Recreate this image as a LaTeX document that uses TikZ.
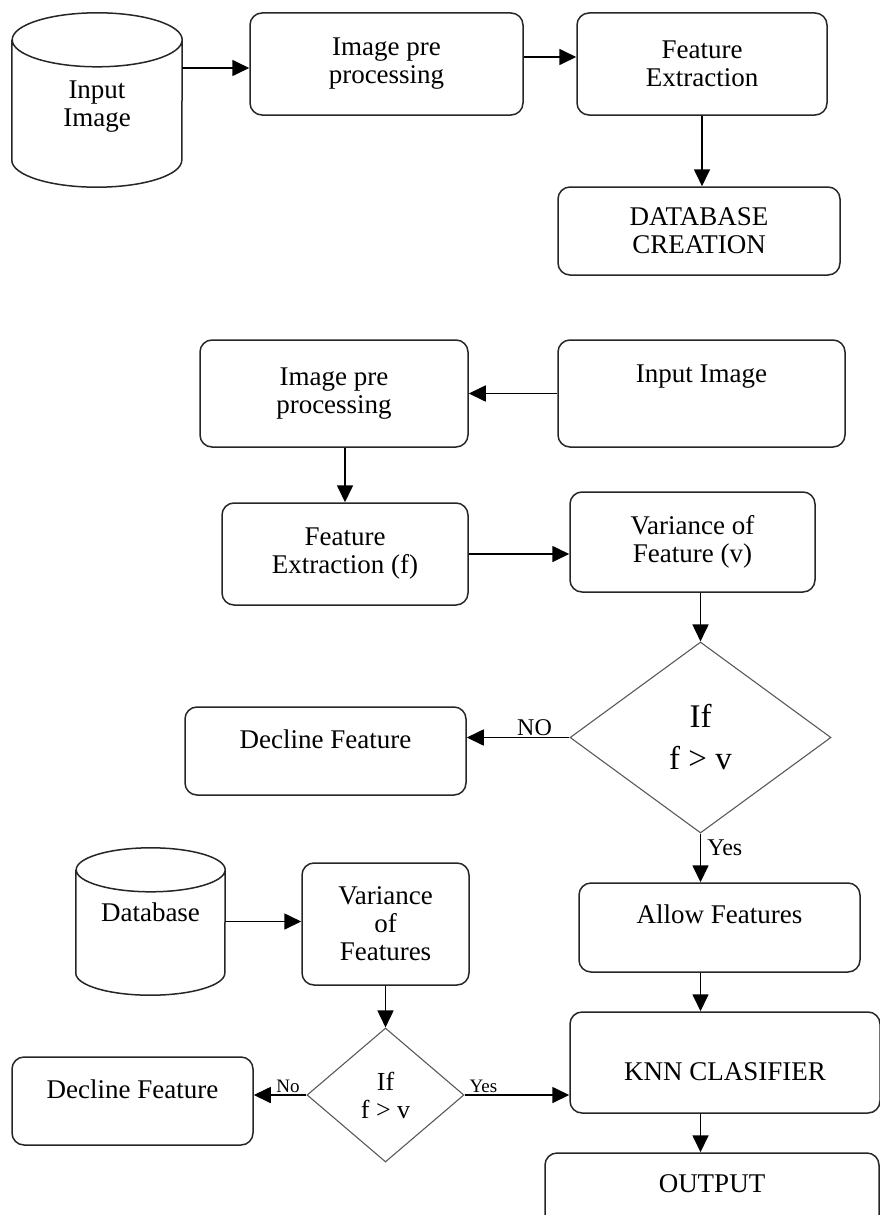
\documentclass[tikz,border=0pt]{standalone}
\usepackage{fontspec}
\setmainfont{Liberation Serif}
\usepackage{tikz}
\usetikzlibrary{positioning}
\usetikzlibrary{shapes.geometric}
\usetikzlibrary{arrows.meta}
\tikzset{
    mybox/.style = {draw=black!85, line width=1.5pt, rounded corners=12pt, align=center, inner sep=0pt, font=\fontsize{27}{28}\selectfont},
    mydrum/.style = {align=center, inner sep=0pt, font=\fontsize{27}{28}\selectfont},
    mydiamond/.style = {diamond, draw=black!65, line width=1.1pt, inner sep=0pt, align=center},
    toptext/.style = {text height=18pt, text depth=#1},
    edgea/.style = {-{Triangle[length=17pt,width=16pt]}, line width=1.7pt},
    labelbig/.style = {inner sep=1pt, font=\fontsize{24}{24}\selectfont},
    labelsmall/.style = {inner sep=1pt, font=\fontsize{19}{19}\selectfont},
}
% outline of a drum: node name, x radius, y radius
\newcommand{\drawdrum}[3]{%
  \draw[line width=1.5pt, draw=black!85] ([yshift=-#3]#1.north west) -- ([yshift=#3]#1.south west)
    arc[start angle=180, end angle=360, x radius=#2, y radius=#3]
    -- ([yshift=-#3]#1.north east)
    arc[start angle=0, end angle=360, x radius=#2, y radius=#3];
}
\begin{document}
\begin{tikzpicture}[x=1pt, y=1pt]
\useasboundingbox (0,0) rectangle (880,-1215);
\clip (0,0) rectangle (880,-1215);
% database creation
\node[mydrum, minimum width=170pt, minimum height=174pt] at (97,-100) (cyl1) {\rule{0pt}{30pt}Input\\Image};
\drawdrum{cyl1}{85pt}{27pt}
\node[mybox, minimum width=273pt, minimum height=102pt] at (386.5,-64) (ipp1) {Image pre\\processing};
\node[mybox, minimum width=250pt, minimum height=102pt] at (702,-64) (fe1) {Feature\\Extraction};
\node[mybox, minimum width=282pt, minimum height=88pt] at (699,-231) (db1) {DATABASE\\CREATION};
%
\draw[edgea] ([yshift=-4pt]cyl1.east |- ipp1.west) -- ([yshift=-4pt]ipp1.west);
\draw[edgea] ([yshift=7pt]ipp1.east) -- ([yshift=7pt]fe1.west);
\draw[edgea] (fe1.south) -- (fe1.south |- db1.north);
% recognition
\node[mybox, minimum width=268pt, minimum height=107pt] at (334,-393.5) (ipp2) {Image pre\\processing};
\node[mybox, minimum width=287pt, minimum height=107pt, toptext=41pt] at (701.5,-393.5) (in2) {Input Image};
\node[mybox, minimum width=246pt, minimum height=102pt] at (345,-554) (fe2) {Feature\\Extraction (f)};
\node[mybox, minimum width=245pt, minimum height=100pt] at (692.5,-542) (var1) {Variance of\\Feature (v)};
\node[mydiamond, minimum width=261pt, minimum height=191pt, font=\fontsize{33}{42}\selectfont] at (700.5,-737.5) (dec1) {If\\f > v};
\node[mybox, minimum width=281pt, minimum height=88pt, toptext=24pt] at (325.5,-751) (decl1) {Decline Feature};
\node[mybox, minimum width=281pt, minimum height=89pt, toptext=27pt] at (719.5,-927.5) (allow) {Allow Features};
\node[mybox, minimum width=310pt, minimum height=101pt, text height=35pt, text depth=0pt] at (725,-1062.5) (knn) {KNN CLASIFIER};
\node[mybox, minimum width=334pt, minimum height=87pt, toptext=27pt] at (712,-1196.5) (out) {OUTPUT};
%
\node[mydrum, minimum width=149pt, minimum height=147pt, toptext=18pt] at (150.5,-921.5) (cyl2) {Database};
\drawdrum{cyl2}{74.5pt}{22pt}
\node[mybox, minimum width=167pt, minimum height=122pt] at (385.5,-924) (var2) {Variance\\of\\Features};
\node[mydiamond, minimum width=157pt, minimum height=134pt, font=\fontsize{26}{28}\selectfont] at (385.5,-1095) (dec2) {If\\f > v};
\node[mybox, minimum width=241pt, minimum height=88pt, toptext=24pt] at (132.5,-1101) (decl2) {Decline Feature};
%
\draw[edgea] (in2.west) -- (in2.west -| ipp2.east);
\draw[edgea] (ipp2.south -| fe2.north) -- (fe2.north);
\draw[edgea] (fe2.east) -- (fe2.east -| var1.west);
\draw[edgea] (var1.south -| dec1.north) -- (dec1.north);
\draw[edgea] (dec1.west) -- node[above, pos=.34, labelbig] {NO} (dec1.west -| decl1.east);
\draw[edgea] (dec1.south) -- node[right, pos=.3, labelbig, xshift=5pt] {Yes} (dec1.south |- allow.north);
\draw[edgea] (allow.south -| dec1.south) -- (knn.north -| dec1.south);
\draw[edgea] (knn.south -| dec1.south) -- (out.north -| dec1.south);
%
\draw[edgea] (cyl2.east) -- (cyl2.east -| var2.west);
\draw[edgea] (var2.south) -- (dec2.north);
\draw[edgea] (dec2.west) -- node[above, pos=.35, labelsmall] {No} (dec2.west -| decl2.east);
\draw[edgea] (dec2.east) -- node[above, pos=.18, labelsmall] {Yes} (dec2.east -| knn.west);
\end{tikzpicture}
\end{document}
